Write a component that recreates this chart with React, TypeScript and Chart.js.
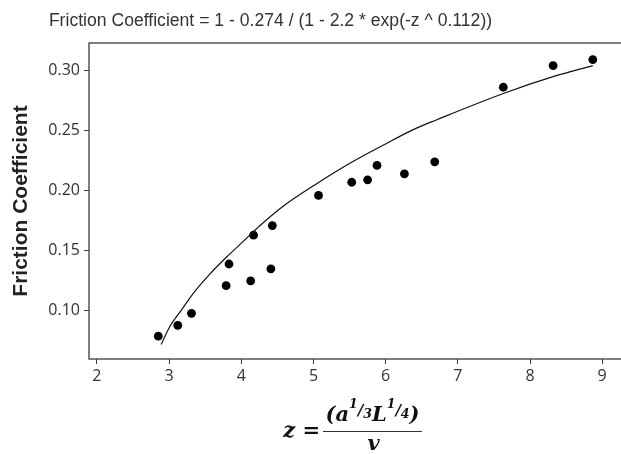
import { useEffect, useRef } from "react";
import { Chart, registerables } from "chart.js";

Chart.register(...registerables);

const chartTitle = "Friction Coefficient = 1 - 0.274 / (1 - 2.2 * exp(-z ^ 0.112))";
const yAxisTitle = "Friction Coefficient";

const pointX = [2.85, 3.12, 3.31, 3.79, 3.83, 4.13, 4.17, 4.41, 4.43, 5.07, 5.53, 5.75, 5.88, 6.26, 6.68, 7.63, 8.32, 8.87];
const pointY = [0.079, 0.088, 0.098, 0.121, 0.139, 0.125, 0.163, 0.135, 0.171, 0.196, 0.207, 0.209, 0.221, 0.214, 0.224, 0.286, 0.304, 0.309];

const curveX = [2.89, 3.01, 3.15, 3.34, 3.57, 3.8, 4.03, 4.26, 4.58, 5.05, 5.51, 5.97, 6.39, 6.71, 7.64, 8.33, 8.87];
const curveY = [0.072, 0.087, 0.099, 0.115, 0.131, 0.145, 0.158, 0.171, 0.187, 0.206, 0.223, 0.238, 0.251, 0.259, 0.281, 0.295, 0.304];

const xTicks = [2, 3, 4, 5, 6, 7, 8, 9];
const yTicks = [0.1, 0.15, 0.2, 0.25, 0.3];

const AXIS_COLOR = "#3a3a3a";
const TEXT_COLOR = "#333333";

const decorPlugin = {
  id: "decor",
  afterDraw(chart: any) {
    const ctx = chart.ctx as CanvasRenderingContext2D;
    const a = chart.chartArea;
    ctx.save();
    // frame
    ctx.strokeStyle = AXIS_COLOR;
    ctx.lineWidth = 1.3;
    ctx.strokeRect(a.left, a.top, a.right - a.left, a.bottom - a.top);

    // title
    ctx.fillStyle = TEXT_COLOR;
    ctx.font = "17.6px 'Liberation Sans', Arial, sans-serif";
    ctx.textAlign = "center";
    ctx.textBaseline = "middle";
    ctx.fillText(chartTitle, 270.5, 21);

    // y title
    ctx.save();
    ctx.translate(21, 201);
    ctx.rotate(-Math.PI / 2);
    ctx.font = "bold 21px 'Liberation Sans', Arial, sans-serif";
    ctx.fillStyle = "#222";
    ctx.fillText(yAxisTitle, 0, 0);
    ctx.restore();

    // x title formula: z = (a^{1/3} L^{1/4}) / v
    const main = "bold italic 21px 'DejaVu Serif', serif";
    const sup = "bold italic 12.5px 'DejaVu Serif', serif";
    const slash = "bold italic 15px 'DejaVu Serif', serif";
    ctx.fillStyle = "#111";
    ctx.textAlign = "left";
    ctx.textBaseline = "alphabetic";
    const lineY = 431;
    const lineL = 323;
    const lineR = 422;
    const cx = (lineL + lineR) / 2;
    ctx.font = main;
    const zw = ctx.measureText("z =").width;
    ctx.fillText("z =", lineL - 3 - zw, 437);
    const pieces = [
      { t: "(", f: main, dy: 0 },
      { t: "a", f: main, dy: 0 },
      { t: "1", f: sup, dy: -13 },
      { t: "/", f: slash, dy: -6 },
      { t: "3", f: sup, dy: -3 },
      { t: "L", f: main, dy: 0 },
      { t: "1", f: sup, dy: -13 },
      { t: "/", f: slash, dy: -6 },
      { t: "4", f: sup, dy: -3 },
      { t: ")", f: main, dy: 0 },
    ];
    let total = 0;
    const widths = pieces.map((p) => {
      ctx.font = p.f;
      const w = ctx.measureText(p.t).width;
      total += w;
      return w;
    });
    let x = cx - total / 2;
    const numBase = 421;
    pieces.forEach((p, i) => {
      ctx.font = p.f;
      ctx.fillText(p.t, x, numBase + p.dy);
      x += widths[i];
    });
    ctx.strokeStyle = "#333";
    ctx.lineWidth = 1;
    ctx.beginPath();
    ctx.moveTo(lineL, lineY + 0.5);
    ctx.lineTo(lineR, lineY + 0.5);
    ctx.stroke();
    ctx.font = main;
    ctx.textAlign = "center";
    ctx.fillText("v", cx + 1, 450);
    ctx.restore();
  },
};

export default function App() {
  const ref = useRef<HTMLCanvasElement | null>(null);
  useEffect(() => {
    if (!ref.current) return;
    const chart = new Chart(ref.current, {
      type: "scatter",
      data: {
        datasets: [
          {
            data: curveX.map((x, i) => ({ x, y: curveY[i] })),
            showLine: true,
            borderColor: "#111",
            borderWidth: 1.2,
            pointRadius: 0,
            cubicInterpolationMode: "monotone",
            fill: false,
          } as any,
          {
            data: pointX.map((x, i) => ({ x, y: pointY[i] })),
            backgroundColor: "#000",
            borderColor: "#000",
            borderWidth: 0,
            pointRadius: 4.4,
          },
        ],
      },
      options: {
        responsive: false,
        animation: false,
        layout: { padding: { top: 43, left: 0, right: 0, bottom: 0 } },
        plugins: {
          legend: { display: false },
          tooltip: { enabled: false },
          title: { display: false },
        },
        scales: {
          x: {
            type: "linear",
            min: 1.89,
            max: 9.463,
            afterBuildTicks: (s: any) => {
              s.ticks = xTicks.map((v) => ({ value: v }));
            },
            afterFit: (s: any) => {
              s.height = 95;
            },
            border: { display: false },
            grid: {
              display: true,
              drawOnChartArea: false,
              drawTicks: true,
              tickLength: 5,
              color: AXIS_COLOR,
              lineWidth: 1,
            },
            ticks: {
              padding: 3,
              color: TEXT_COLOR,
              font: { family: "'Open Sans', sans-serif", size: 16 },
              maxRotation: 0,
              autoSkip: false,
              callback: (v: any) => String(v),
            },
          },
          y: {
            type: "linear",
            min: 0.06,
            max: 0.3228,
            afterBuildTicks: (s: any) => {
              s.ticks = yTicks.map((v) => ({ value: v }));
            },
            afterFit: (s: any) => {
              s.width = 89;
            },
            border: { display: false },
            grid: {
              display: true,
              drawOnChartArea: false,
              drawTicks: true,
              tickLength: 5,
              color: AXIS_COLOR,
              lineWidth: 1,
            },
            ticks: {
              padding: 4,
              color: TEXT_COLOR,
              font: { family: "'Open Sans', sans-serif", size: 16 },
              autoSkip: false,
              callback: (v: any) => Number(v).toFixed(2),
            },
          },
        },
      },
      plugins: [decorPlugin],
    });
    return () => chart.destroy();
  }, []);
  return (
    <div
      style={{
        position: "fixed",
        left: 0,
        top: 0,
        width: 621,
        height: 454,
        overflow: "hidden",
        background: "#fff",
      }}
    >
      <canvas ref={ref} width={640} height={454} style={{ display: "block" }} />
    </div>
  );
}
